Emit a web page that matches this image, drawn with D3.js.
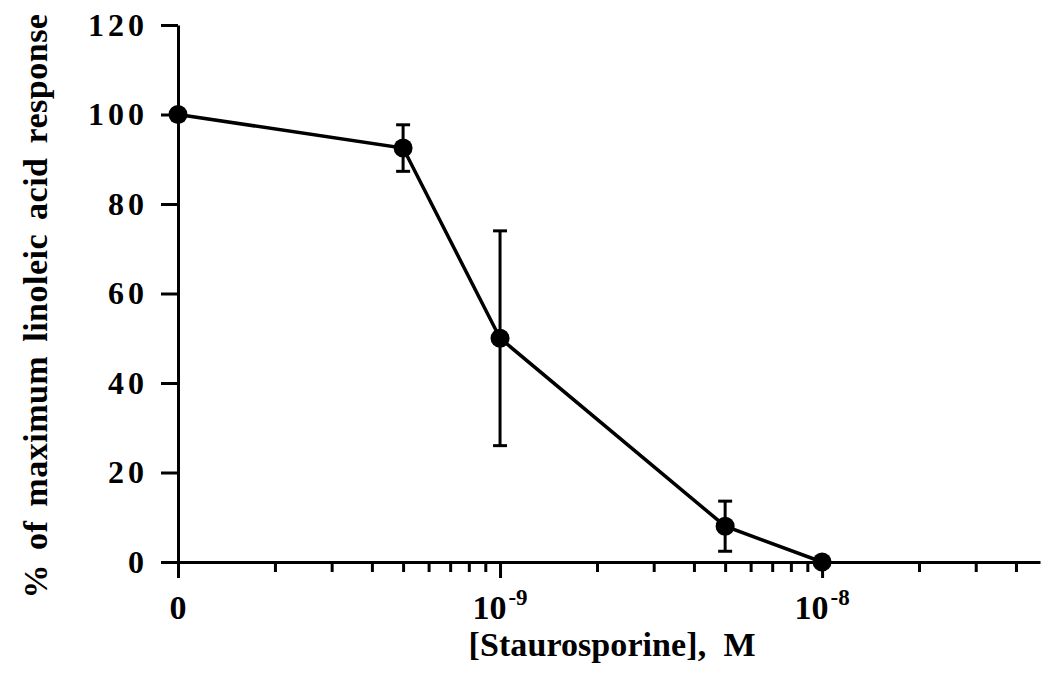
<!DOCTYPE html>
<html>
<head>
<meta charset="utf-8">
<script src="https://cdn.jsdelivr.net/npm/d3@7"></script>
<style>
  html, body { margin: 0; padding: 0; background: #fff; }
  svg { display: block; }
  text { font-family: "Liberation Serif", "Times New Roman", Times, serif; font-weight: bold; fill: #000; }
</style>
</head>
<body>
<svg id="chart" width="1045" height="677"></svg>
<script>
// Staurosporine concentration (M); the control (0) is placed one decade below 1e-9
const concentrations = [0, 5e-10, 1e-9, 5e-9, 1e-8];
// Mean response, % of maximum linoleic acid response
const responsePct = [100, 92.5, 50, 8, 0];
// Error bar half-length, same units
const responseErr = [0, 5.2, 24, 5.6, 0];

const yTicks = [0, 20, 40, 60, 80, 100, 120];
const xTickValues = [0, 1e-9, 1e-8];
const xTickBase = ["0", "10", "10"];
const xTickExp = ["", "-9", "-8"];

const xTitle = "[Staurosporine],  M";
const yTitle = "% of maximum linoleic acid response";

const zeroPosition = 1e-10;
const svg = d3.select("#chart");

const x = d3.scaleLog().domain([1e-10, 4.75e-8]).range([178, 1040]);
const y = d3.scaleLinear().domain([0, 120]).range([562, 25]);
const px = c => x(c === 0 ? zeroPosition : c);

const AXIS_W = 3;

// y axis
svg.append("g")
  .attr("transform", `translate(${x(zeroPosition)},0)`)
  .call(d3.axisLeft(y).tickValues(yTicks).tickSize(17).tickSizeOuter(0).tickFormat(""));

// x axis, major ticks
svg.append("g")
  .attr("transform", `translate(0,${y(0)})`)
  .call(d3.axisBottom(x).tickValues(xTickValues.map(v => v === 0 ? zeroPosition : v))
    .tickSize(16).tickSizeOuter(0).tickFormat(""));

// x axis, minor log ticks
const minorTicks = x.ticks().filter(t => {
  const e = Math.log10(t);
  return Math.abs(e - Math.round(e)) > 1e-6;
});
const xMinor = svg.append("g")
  .attr("transform", `translate(0,${y(0)})`)
  .call(d3.axisBottom(x).tickValues(minorTicks).tickSize(10).tickSizeOuter(0).tickFormat(""));
xMinor.select(".domain").remove();

svg.selectAll(".domain, .tick line")
  .attr("stroke", "#000")
  .attr("stroke-width", AXIS_W);

// y tick labels
svg.append("g").selectAll("text")
  .data(yTicks)
  .join("text")
  .attr("x", 148)
  .attr("y", d => y(d))
  .attr("dy", "0.33em")
  .attr("text-anchor", "end")
  .style("font-size", "32px")
  .style("letter-spacing", "4px")
  .text(d => d);

// x tick labels with superscript exponents
const xl = svg.append("g").selectAll("text")
  .data(xTickValues)
  .join("text")
  .attr("x", d => px(d))
  .attr("y", 619)
  .attr("text-anchor", "middle")
  .style("font-size", "34px");
xl.append("tspan").text((d, i) => xTickBase[i]);
xl.append("tspan")
  .attr("dy", -14)
  .attr("dx", 2)
  .style("font-size", "23px")
  .text((d, i) => xTickExp[i]);

// axis titles
svg.append("text")
  .attr("x", 612)
  .attr("y", 656)
  .attr("text-anchor", "middle")
  .attr("xml:space", "preserve")
  .style("white-space", "pre")
  .style("font-size", "34px")
  .attr("textLength", 287)
  .attr("lengthAdjust", "spacing")
  .text(xTitle);

svg.append("text")
  .attr("transform", "translate(47,306) rotate(-90)")
  .attr("text-anchor", "middle")
  .style("font-size", "34px")
  .style("word-spacing", "5px")
  .style("letter-spacing", "0.5px")
  .text(yTitle);

// error bars
const pts = concentrations.map((c, i) => ({ c, v: responsePct[i], e: responseErr[i] }));
const eb = svg.append("g").attr("stroke", "#000").attr("stroke-width", 3);
pts.filter(d => d.e > 0).forEach(d => {
  const cx = px(d.c), y1 = y(d.v + d.e), y2 = y(d.v - d.e);
  eb.append("line").attr("x1", cx).attr("x2", cx).attr("y1", y1).attr("y2", y2);
  eb.append("line").attr("x1", cx - 7).attr("x2", cx + 7).attr("y1", y1).attr("y2", y1);
  eb.append("line").attr("x1", cx - 7).attr("x2", cx + 7).attr("y1", y2).attr("y2", y2);
});

// connecting line
svg.append("path")
  .datum(pts)
  .attr("fill", "none")
  .attr("stroke", "#000")
  .attr("stroke-width", 3.5)
  .attr("d", d3.line().x(d => px(d.c)).y(d => y(d.v)));

// markers
svg.append("g").selectAll("circle")
  .data(pts)
  .join("circle")
  .attr("cx", d => px(d.c))
  .attr("cy", d => y(d.v))
  .attr("r", 9.5)
  .attr("fill", "#000");
</script>
</body>
</html>
